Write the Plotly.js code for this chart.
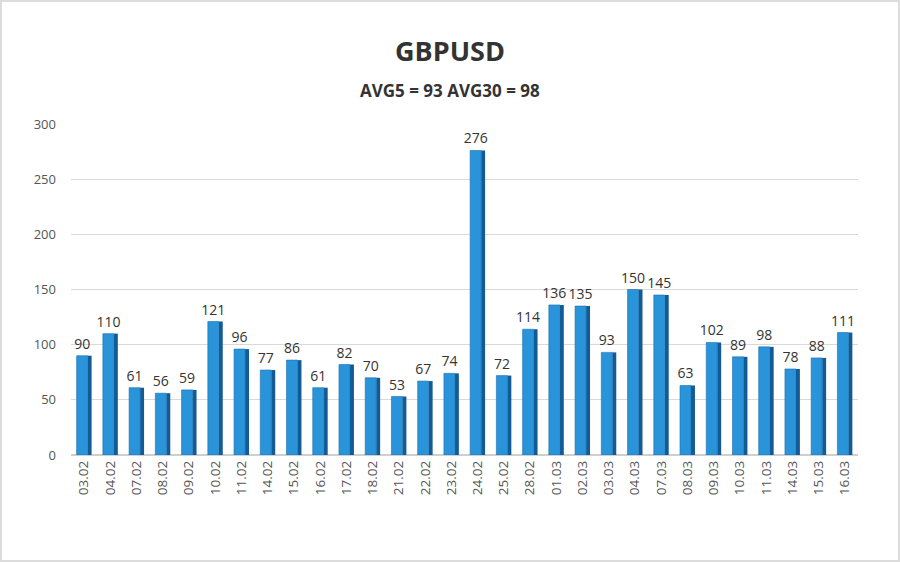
<!DOCTYPE html>
<html>
<head>
<meta charset="utf-8">
<script src="https://cdn.plot.ly/plotly-3.0.1.min.js"></script>
<style>
html,body{margin:0;padding:0;background:#fff;}
#frame{position:absolute;left:0;top:0;width:896px;height:558px;border:2px solid #dcdcdc;}
#chart{position:absolute;left:0;top:0;width:900px;height:562px;}
</style>
</head>
<body>
<div id="frame"></div>
<div id="chart"></div>
<script>
const categories = ["03.02","04.02","07.02","08.02","09.02","10.02","11.02","14.02","15.02","16.02",
  "17.02","18.02","21.02","22.02","23.02","24.02","25.02","28.02","01.03","02.03",
  "03.03","04.03","07.03","08.03","09.03","10.03","11.03","14.03","15.03","16.03"];
const values = [90,110,61,56,59,121,96,77,86,61,
  82,70,53,67,74,276,72,114,136,135,
  93,150,145,63,102,89,98,78,88,111];
const yTicks = [0,50,100,150,200,250,300];
const titleText = "GBPUSD";
const subtitleText = "AVG5 = 93 AVG30 = 98";

const font = "Open Sans, Noto Sans, sans-serif";

const side = {
  type: "bar", x: categories, y: values,
  width: 0.15, offset: 0.135,
  marker: {color: "#145a94", line: {width: 0}},
  hoverinfo: "skip", showlegend: false
};
const front = {
  type: "bar", x: categories, y: values,
  width: 0.42, offset: -0.285,
  marker: {color: "#2a94da", line: {width: 0.6, color: "#1a6fae"}},
  text: values.map(String), textposition: "outside", constraintext: "none",
  textfont: {family: font, size: 14, color: "#333333"},
  cliponaxis: false, showlegend: false
};

const layout = {
  width: 900, height: 562,
  paper_bgcolor: "rgba(0,0,0,0)", plot_bgcolor: "rgba(0,0,0,0)",
  margin: {l: 71, r: 42, t: 124, b: 107},
  barmode: "overlay",
  font: {family: font, color: "#444"},
  uniformtext: {mode: false},
  xaxis: {
    type: "category", tickangle: -90,
    tickfont: {family: font, size: 13.5, color: "#555555"},
    showgrid: false, zeroline: false, showline: false, ticks: "",
    ticklen: 0, ticklabelstandoff: 2
  },
  yaxis: {
    range: [0, 300], tickvals: yTicks,
    tickfont: {family: font, size: 13, color: "#555555"},
    showgrid: true, gridcolor: "#d9d9d9", gridwidth: 1,
    zeroline: true, zerolinecolor: "#cfcfcf", zerolinewidth: 1.5,
    showline: false, ticks: "", ticklabelstandoff: 14
  },
  annotations: [
    {text: "<b>" + titleText + "</b>", xref: "paper", yref: "paper", x: 0.5, y: 1, yshift: 74,
     xanchor: "center", yanchor: "middle", showarrow: false,
     font: {family: font, size: 27, color: "#333333"}},
    {text: "<b>" + subtitleText + "</b>", xref: "paper", yref: "paper", x: 0.5, y: 1, yshift: 34,
     xanchor: "center", yanchor: "middle", showarrow: false,
     font: {family: font, size: 17, color: "#333333"}}
  ]
};
layout.annotations[0].x = (450 - 71) / (900 - 71 - 42);
layout.annotations[1].x = (450 - 71) / (900 - 71 - 42);

Plotly.newPlot("chart", [side, front], layout, {displayModeBar: false, staticPlot: true});
</script>
</body>
</html>
